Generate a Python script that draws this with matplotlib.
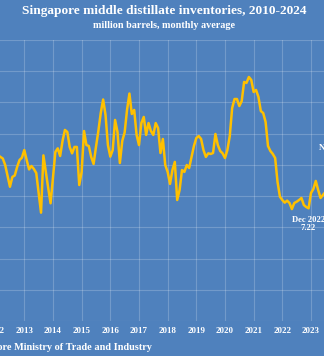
import matplotlib
matplotlib.use("Agg")
import matplotlib.pyplot as plt
import numpy as np

# monthly averages, million barrels, starting Feb 2012 (visible window only)
START_YEAR = 2012
START_MONTH = 2
inventories = [
    10.63, 10.51, 10.41, 9.99, 9.29, 8.60, 9.23, 9.32, 9.87, 10.31, 10.46,   # 2012
    10.95, 10.31, 9.71, 9.93, 9.74, 9.48, 8.20, 6.94, 10.61, 9.55, 8.52, 7.54,  # 2013
    9.16, 10.83, 11.06, 10.57, 11.53, 12.24, 12.11, 11.15, 10.74, 11.15, 11.15, 8.71,  # 2014
    9.55, 12.17, 11.27, 11.21, 10.51, 10.06, 11.15, 12.17, 13.32, 14.19, 13.20, 11.27,  # 2015
    10.53, 10.95, 12.88, 12.11, 10.12, 11.53, 12.08, 13.52, 14.57, 13.26, 13.52, 11.92,  # 2016
    11.27, 12.68, 13.07, 11.92, 12.68, 12.17, 11.92, 12.68, 12.36, 10.76, 11.66, 9.99,  # 2017
    9.55, 8.78, 9.67, 10.19, 7.75, 8.39, 9.67, 9.55, 9.99, 9.80, 10.51, 11.21,  # 2018
    11.72, 11.85, 11.66, 10.95, 10.51, 10.74, 10.70, 10.76, 11.98, 11.27, 10.89, 10.74,  # 2019
    10.44, 10.95, 11.85, 13.64, 14.22, 14.22, 13.77, 14.09, 15.31, 15.25, 15.63, 15.44,  # 2020
    14.67, 14.80, 14.35, 13.45, 13.32, 12.75, 11.21, 10.89, 10.70, 10.44, 8.90, 7.96,  # 2021
    7.75, 7.58, 7.71, 7.56, 7.17, 7.56, 7.64, 7.75, 7.88, 7.43, 7.30, 7.22,  # 2022
    8.20, 8.46, 8.97, 8.39, 7.88, 8.07, 8.26,  # 2023
]
years = list(range(2010, 2025))
y_grid = list(range(0, 19, 2))

BG = "#4F81BD"
LINE = "#FFC000"
FONT = "Liberation Serif"

x = START_YEAR + (START_MONTH - 1 + np.arange(len(inventories))) / 12

fig = plt.figure(figsize=(3.24, 3.56), dpi=100, facecolor=BG)
# the original chart is wider than this crop, so the axes run past both edges
ax = fig.add_axes([-0.19047, 0.09831, 1.3273, 0.78933], facecolor=BG)

ax.plot(x, inventories, color=LINE, linewidth=1.8, solid_joinstyle="round")

ax.set_xlim(2010, 2025)
ax.set_ylim(0, 18)
ax.set_xticks(years)
ax.set_xticklabels([str(y) for y in years])
ax.set_yticks(y_grid)
ax.tick_params(axis="both", length=0, labelleft=False, pad=4.5,
               labelcolor="white", labelsize=6.4)
for lab in ax.get_xticklabels():
    lab.set_family(FONT)
    lab.set_fontweight("bold")
ax.grid(True, color="white", alpha=0.2, linewidth=0.8)
for s in ax.spines.values():
    s.set_visible(False)

# low point annotation
ax.annotate("Dec 2022\n7.22", xy=(2022 + 11 / 12, 7.22), xytext=(0, -5.5),
            textcoords="offset points", ha="center", va="top",
            color="white", fontsize=6.2, family=FONT, fontweight="bold",
            linespacing=1.0)
ax.text(2023.28, 11.08, "Nov 2024", ha="left", va="center", color="white",
        fontsize=6.2, family=FONT, fontweight="bold")

fig.text(0.506, 1 - 11 / 356, "Singapore middle distillate inventories, 2010-2024",
         ha="center", va="center", color="white", fontsize=9.6,
         family=FONT, fontweight="bold")
fig.text(0.506, 1 - 26 / 356, "million barrels, monthly average",
         ha="center", va="center", color="white", fontsize=7.3,
         family=FONT, fontweight="bold")
fig.text(152 / 324, 1 - 348 / 356, "Source: Singapore Ministry of Trade and Industry",
         ha="right", va="center", color="white", fontsize=7.4,
         family=FONT, fontweight="bold")

fig.savefig("out.png", dpi=100, facecolor=BG)
